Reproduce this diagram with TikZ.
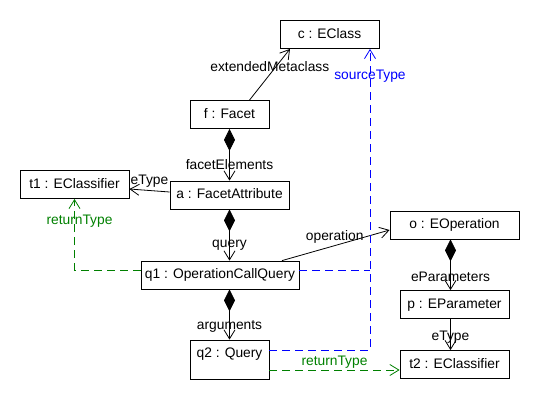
\documentclass[tikz,border=0pt]{standalone}
\usepackage{fontspec}
\setmainfont{Liberation Sans}
\usetikzlibrary{arrows.meta}
\begin{document}
\begin{tikzpicture}
[x=1pt,y=-1pt,
  nodeDecorate/.style={draw,line width=0.8pt,inner xsep=2pt,inner ysep=7.5pt,
    text height=10pt,text depth=3pt},%
  lineDecorate/.style={line width=0.8pt},%
  compDecorate/.style={lineDecorate,
    {Diamond[length=22pt,width=11pt]}-{Straight Barb[length=9pt,width=11pt]}},%
  refDecorate/.style={lineDecorate,-{Straight Barb[length=9pt,width=11pt]}},%
  typeDecorate/.style={refDecorate,dash pattern=on 8pt off 5pt},%
  labelDecorate/.style={inner sep=0pt},%
  font=\fontsize{13.8}{16}\selectfont]
\useasboundingbox (0,0) rectangle (540,410);
%% objects
\foreach \nodename/\x/\y/\w/\txt in {
  c/329.5/34.5/99/c : EClass, f/229.5/114.5/79/f : Facet,
  t1/74.5/184.5/109/t1 : EClassifier, a/229.5/195/119/a : FacetAttribute,
  q1/220/275/158/q1 : OperationCallQuery, o/454.5/225/129/o : EOperation,
  p/454.5/304.5/109/p : EParameter, t2/454.5/364.5/109/t2 : EClassifier}
{
  \node (\nodename) at (\x,\y) [nodeDecorate,minimum width=\w pt] {\txt};
}
\node (q2) at (229.5,359.5) [nodeDecorate,minimum width=79pt,text depth=14pt] {q2 : Query};
%% links
\draw[refDecorate] ([xshift=20pt]f.north) -- ([xshift=-39.5pt]c.south)
  node[labelDecorate,pos=0.65,xshift=-6pt] {extendedMetaclass};
\draw[compDecorate] (f.south) -- (a.north) node[labelDecorate,pos=0.69] {facetElements};
\draw[refDecorate] ([yshift=3pt]a.west) -- ([yshift=-4.5pt]t1.east)
  node[labelDecorate,pos=0.5,yshift=9pt] {eType};
\draw[compDecorate] (a.south) -- (a.south |- q1.north) node[labelDecorate,pos=0.69] {query};
\draw[refDecorate] ([xshift=62pt]q1.north) -- ([yshift=-5pt]o.west)
  node[labelDecorate,pos=0.49,yshift=9pt] {operation};
\draw[compDecorate] (q1.south -| q2.north) -- (q2.north) node[labelDecorate,pos=0.74] {arguments};
\draw[compDecorate] ([xshift=-4pt]o.south) -- ([xshift=-4pt]p.north)
  node[labelDecorate,pos=0.74] {eParameters};
\draw[refDecorate] ([xshift=-4pt]p.south) -- ([xshift=-4pt]t2.north)
  node[labelDecorate,pos=0.57] {eType};
%% types
\coordinate (q1src) at ([yshift=5pt]q1.east);
\coordinate (q2src) at ([yshift=9.5pt]q2.east);
\coordinate (csrc) at ([xshift=40.5pt]c.south);
\draw[typeDecorate,green!50!black] ([yshift=5pt]q1.west) -| (t1.south)
  node[labelDecorate,pos=0.845,xshift=5pt] {returnType};
\draw[typeDecorate,blue] (q2src) -| (csrc)
  node[labelDecorate,pos=0.955] {sourceType};
\draw[lineDecorate,dash pattern=on 8pt off 5pt,blue] (q1src) -- (q1src -| csrc);
\draw[typeDecorate,green!50!black] ([yshift=-10.5pt]q2.east) -- ([yshift=-5.5pt]t2.west)
  node[labelDecorate,pos=0.5,yshift=8pt] {returnType};
\end{tikzpicture}
\end{document}
